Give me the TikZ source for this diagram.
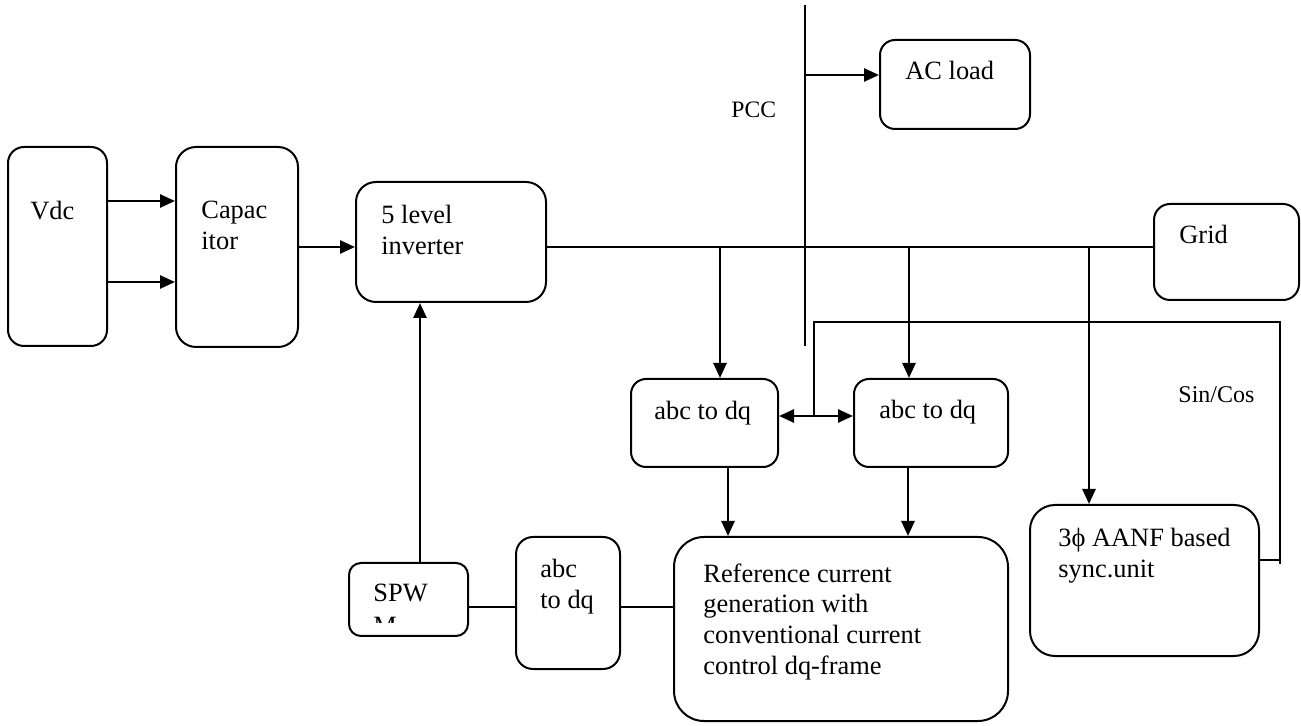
\documentclass[tikz,border=0pt]{standalone}
\usepackage{fontspec}
\setmainfont{Liberation Serif}
\usetikzlibrary{arrows.meta,positioning}
\tikzset{
  >={Triangle[length=7.5pt,width=6.5pt]},
  blk/.style={draw, line width=1pt, inner sep=0pt},
  txt/.style={font=\fontsize{13.2}{15.5}\selectfont, inner sep=0pt, align=left, anchor=base west},
  arr/.style={->, line width=1.3pt},
  wire/.style={line width=0.85pt},
}

\begin{document}
\begin{tikzpicture}[x=0.5pt, y=-0.5pt]
\useasboundingbox (0,0) rectangle (1301,726);

% blocks
\node[blk, minimum width=49.5pt, minimum height=99.5pt, rounded corners=8pt] (vdc) at (57.5,246.5) {};
\node[blk, minimum width=61pt, minimum height=100pt, rounded corners=10pt] (cap) at (237,247) {};
\node[blk, minimum width=95pt, minimum height=60pt, rounded corners=10pt] (inv) at (451,242) {};
\node[blk, minimum width=75pt, minimum height=44.5pt, rounded corners=7.5pt] (load) at (955,84.5) {};
\node[blk, minimum width=72.5pt, minimum height=48pt, rounded corners=8pt] (grid) at (1226.5,252) {};
\node[blk, minimum width=73.5pt, minimum height=44pt, rounded corners=7.5pt] (abc1) at (704.5,423) {};
\node[blk, minimum width=77pt, minimum height=44pt, rounded corners=7.5pt] (abc2) at (931,423) {};
\node[blk, minimum width=167pt, minimum height=92pt, rounded corners=15pt] (ref) at (841,629) {};
\node[blk, minimum width=114.5pt, minimum height=75.5pt, rounded corners=12.5pt] (sync) at (1144.5,580.5) {};
\node[blk, minimum width=59.5pt, minimum height=36.5pt, rounded corners=6pt] (spwm) at (408.5,599.5) {};
\node[blk, minimum width=52pt, minimum height=66pt, rounded corners=8.5pt] (abc3) at (568,603) {};

% texts (multi-line ones sit on their last baseline)
\node[txt] (vdctxt) at (30,220) {Vdc};
\node[txt] (captxt) at (201,250) {Capac\\itor};
\node[txt] (invtxt) at (381,255) {5 level\\inverter};
\node[txt] (loadtxt) at (905,80) {AC load};
\node[txt] (gridtxt) at (1179,244) {Grid};
\node[txt, font=\fontsize{11.8}{14}\selectfont] (pcctxt) at (731,118) {PCC};
\node[txt] (abc1txt) at (654,420) {abc to dq};
\node[txt] (abc2txt) at (879,419) {abc to dq};
\node[txt, font=\fontsize{12}{14}\selectfont] (sctxt) at (1178,403) {Sin/Cos};
\node[txt] (synctxt) at (1058,578) {3ϕ AANF based\\sync.unit};
\node[txt] (reftxt) at (703,675) {Reference current\\generation with\\conventional current\\control dq-frame};
\node[txt] (abc3txt) at (540,609) {abc\\to dq};
\node[txt] (spwtxt) at (373,602) {SPW};
\begin{scope}
  \clip (349,563) rectangle (468,623);
  \node[txt] (mtxt) at (373,634) {M};
\end{scope}

% PCC bus and load
\coordinate (pcctop) at (805,5);
\coordinate (pccbot) at (805,346);
\draw[wire] (pcctop) -- (pccbot);
\draw[arr] (pcctop |- 0,75) -- (load.west |- 0,75);

% dc side
\draw[arr] (vdc.east |- 0,201) -- (cap.west |- 0,201);
\draw[arr] (vdc.east |- 0,282) -- (cap.west |- 0,282);
\draw[arr] (cap.east |- 0,247) -- (inv.west |- 0,247);

% ac line to grid, with taps
\coordinate (tap1) at (720,247);
\coordinate (tap2) at (909,247);
\coordinate (tap3) at (1089,247);
\draw[line width=1.3pt] (inv.east |- 0,247) -- (grid.west |- 0,247);
\draw[arr] (tap1) -- (abc1.north -| tap1);
\draw[arr] (tap2) -- (abc2.north -| tap2);
\draw[arr] (tap3) -- (sync.north -| tap3);

% control
\draw[arr] (abc1.south -| 728,0) -- (ref.north -| 728,0);
\draw[arr] (abc2.south -| 908,0) -- (ref.north -| 908,0);
\draw[arr, <->] (abc1.east |- 0,416) -- (abc2.west |- 0,416);

% sin/cos feedback
\coordinate (fbjoin) at (814,416);
\coordinate (fbtop) at (814,322);
\coordinate (fbright) at (1280,322);
\coordinate (fbend) at (1280,564);
\draw[wire] (fbend) -- (fbright) -- (fbtop) -- (fbjoin);
\draw[wire] (sync.east |- 0,560) -- (fbend |- 0,560);

% modulator
\draw[arr] (spwm.north -| 420,0) -- (inv.south -| 420,0);
\draw[wire] (spwm.east |- 0,607) -- (abc3.west |- 0,607);
\draw[wire] (abc3.east |- 0,607) -- (ref.west |- 0,607);
\end{tikzpicture}
\end{document}
